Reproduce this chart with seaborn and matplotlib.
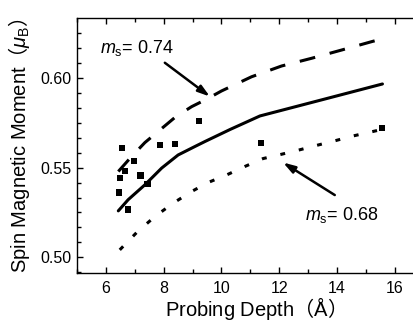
import numpy as np
import pandas as pd
import matplotlib
matplotlib.use("Agg")
import matplotlib.pyplot as plt
import seaborn as sns
from matplotlib.ticker import AutoMinorLocator

# DATA

depth_meas = [6.56, 7.87, 8.39, 9.23, 6.98, 6.66, 6.49, 7.20, 7.44, 6.45, 6.77, 11.36, 15.55]
moment_meas = [0.5608, 0.5624, 0.5632, 0.5759, 0.5536, 0.5482, 0.5444, 0.5456, 0.5408,
               0.5361, 0.5267, 0.5636, 0.5722]

depth_fit = [6.43, 6.77, 7.35, 7.93, 8.50, 9.08, 9.43, 10.3, 11.33, 13.5, 15.57]
moment_fit = [0.5259, 0.5321, 0.5404, 0.5497, 0.5570, 0.5617, 0.5645, 0.5712, 0.5787, 0.5878, 0.5965]

depth_074 = [6.43, 6.87, 7.35, 7.90, 8.42, 8.97, 9.48, 10.0, 11.04, 12.08, 13.12, 14.16, 15.23, 15.55]
moment_074 = [0.5478, 0.5558, 0.5639, 0.5713, 0.5783, 0.5839, 0.5880, 0.5926, 0.6005, 0.6065,
              0.6108, 0.6154, 0.6202, 0.6215]

depth_068 = [6.48, 7.08, 7.70, 8.33, 8.97, 9.54, 10.18, 10.81, 11.44, 12.08, 12.69, 13.31,
             13.95, 14.56, 15.17, 15.55]
moment_068 = [0.5042, 0.5141, 0.5228, 0.5302, 0.5367, 0.5417, 0.5459, 0.5506, 0.5550, 0.5574,
              0.5598, 0.5624, 0.5650, 0.5676, 0.5698, 0.5712]

x_ticks = [6, 8, 10, 12, 14, 16]
y_ticks = [0.50, 0.55, 0.60]


# STYLE

sns.set_style("ticks")
plt.rcParams["font.family"] = ["Liberation Sans", "Noto Sans CJK JP", "DejaVu Sans"]
plt.rcParams["mathtext.fontset"] = "custom"
plt.rcParams["mathtext.rm"] = "Liberation Sans"
plt.rcParams["mathtext.it"] = "Liberation Sans:italic"
plt.rcParams["mathtext.sf"] = "Noto Sans CJK JP"
for key in ["text.color", "axes.labelcolor", "xtick.color", "ytick.color", "axes.edgecolor"]:
    plt.rcParams[key] = "black"

fig = plt.figure(figsize=(4.13, 3.21), dpi=100)
ax = fig.add_axes([0.1864, 0.1505, 0.8397, 0.7934])

lw = 2.2
sns.lineplot(x=depth_fit, y=moment_fit, color="k", linewidth=lw, ax=ax)
sns.lineplot(x=depth_074, y=moment_074, color="k", linewidth=lw,
             linestyle=(0, (5.2, 4.9)), ax=ax)
sns.lineplot(x=depth_068, y=moment_068, color="k", linewidth=lw,
             linestyle=(0, (1.6, 4.6)), ax=ax)
sns.scatterplot(x=depth_meas, y=moment_meas, marker="s", s=20, color="k",
                edgecolor="none", ax=ax, zorder=3)

ax.set_xlim(5, 17)
ax.set_ylim(0.4915, 0.6332)
ax.set_xticks(x_ticks)
ax.set_yticks(y_ticks)
ax.set_yticklabels([f"{v:.2f}" for v in y_ticks])
ax.xaxis.set_minor_locator(AutoMinorLocator(2))
ax.yaxis.set_minor_locator(AutoMinorLocator(6))

ax.tick_params(which="both", direction="in", top=True, right=True, width=1.0)
ax.tick_params(which="major", length=4.5, labelsize=11.5)
ax.tick_params(which="minor", length=2.7)
ax.tick_params(axis="x", pad=6)
ax.tick_params(axis="y", pad=4)
for sp in ax.spines.values():
    sp.set_linewidth(1.0)

ax.set_xlabel(r"Probing Depth$\mathsf{（}$Å$\mathsf{）}$", fontsize=14.5, labelpad=-1)
ax.set_ylabel(r"Spin Magnetic Moment$\mathsf{（}\mathit{\mu}_{\mathrm{B}}\mathsf{）}$",
              fontsize=14.5, labelpad=6)

# annotations
ax.text(5.79, 0.6137, r"$m_{\mathrm{s}}$= 0.74", fontsize=13, ha="left", va="baseline")
ax.text(12.89, 0.5209, r"$m_{\mathrm{s}}$= 0.68", fontsize=13, ha="left", va="baseline")
arrow = dict(arrowstyle="-|>,head_length=0.7,head_width=0.22", color="k", lw=1.8,
             shrinkA=0, shrinkB=0)
ax.annotate("", xy=(9.6, 0.5895), xytext=(8.04, 0.6083), arrowprops=arrow)
ax.annotate("", xy=(12.13, 0.5528), xytext=(13.92, 0.5347), arrowprops=arrow)

fig.savefig("out.png", dpi=100)
